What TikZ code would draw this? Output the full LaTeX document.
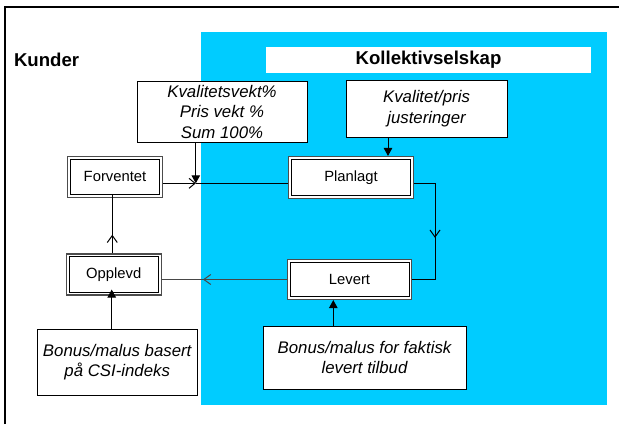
\documentclass[tikz,border=0pt]{standalone}
\usepackage{fontspec}
\setmainfont{Liberation Sans}
\usetikzlibrary{arrows.meta,decorations.markings}
\definecolor{skyblue}{HTML}{00CCFF}
\tikzset{
  dbox/.style={draw=black!70, line width=1.1pt, fill=white, inner sep=0pt,
    font=\fontsize{14.8}{17}\selectfont,
    path picture={\draw[black, line width=0.9pt]
      ([shift={(2.8pt,-2.8pt)}]path picture bounding box.north west) rectangle
      ([shift={(-2.8pt,2.8pt)}]path picture bounding box.south east);}},
  tbox/.style={draw=black, line width=0.9pt, fill=white, inner sep=0pt, align=center,
    font=\fontsize{16.8}{20.5}\selectfont\itshape},
  title/.style={font=\fontsize{18.6}{22}\selectfont\bfseries, inner sep=0pt},
  conn/.style={line width=1pt, draw=black},
  openhead/.style={-{Straight Barb[length=6pt,width=10pt,line width=1pt]}},
  fillhead/.style={-{Triangle[length=8pt,width=8.5pt]}},
  midarrow/.style={postaction={decorate}, decoration={markings,
    mark=at position #1 with {\arrow{Straight Barb[length=7pt,width=10pt,line width=1pt]}}}}
}
\begin{document}
\begin{tikzpicture}[x=1pt,y=-1pt]
\useasboundingbox (0,0) rectangle (619,424);
% frame
\draw[line width=2pt] (5.2,424) -- (5.2,6.5) -- (619,6.5);
% blue area
\fill[skyblue] (200.5,32) rectangle (607,405);
\fill[white] (266,47) rectangle (591,73);
\node[title] (kol) at (428.5,60) {Kollektivselskap};
\node[title, anchor=west] (kun) at (13.8,60) {Kunder};

% double boxes
\node[dbox, minimum width=95pt, minimum height=41pt] (forv) at (115,176.7) {Forventet};
\node[dbox, minimum width=125pt, minimum height=42pt] (plan) at (351,177.5) {Planlagt};
\node[dbox, minimum width=95pt, minimum height=41pt] (oppl) at (113.7,274.5) {Opplevd};
\node[dbox, minimum width=124.6pt, minimum height=40pt] (lev) at (349.5,279.5) {Levert};

% text boxes
\node[tbox, minimum width=170pt, minimum height=61pt] (kv) at (222,111.5)
  {Kvalitetsvekt\%\\Pris vekt \%\\Sum 100\%};
\node[tbox, minimum width=161pt, minimum height=57pt] (kp) at (426.5,108.5)
  {Kvalitet/pris\\justeringer};
\node[tbox, minimum width=160pt, minimum height=66pt] (bb) at (117.2,362)
  {Bonus/malus basert\\på CSI-indeks};
\node[tbox, minimum width=203pt, minimum height=63pt] (bf) at (364.5,357.5)
  {Bonus/malus for faktisk\\levert tilbud};

% helper coordinates
\coordinate (jn) at (195.8,183.3);
\coordinate (rx) at (435,0);
\coordinate (ax) at (112.3,0);
\coordinate (bx) at (111.7,0);
\coordinate (fx) at (333.3,0);
\coordinate (kx) at (388,0);

% connectors
\draw[conn, openhead] (forv.east |- jn) -- (jn);
\draw[conn] (jn) -- (plan.west |- jn);
\draw[conn, fillhead] (kv.south -| jn) -- (jn);
\draw[conn, midarrow=0.54] (plan.east |- jn) -| (rx |- lev.east) -- (lev.east);
\draw[line width=1.8pt, draw=black!72, midarrow=0.67] (lev.west) -- (lev.west -| oppl.east);
\draw[conn, midarrow=0.32] (oppl.north -| ax) -- ([yshift=3pt]forv.south -| ax);
\draw[conn, fillhead] (bb.north -| bx) -- ([yshift=6pt]oppl.south -| bx);
\draw[conn, fillhead] (bf.north -| fx) -- (lev.south -| fx);
\draw[conn, fillhead] (kp.south -| kx) -- (plan.north -| kx);
\end{tikzpicture}
\end{document}
